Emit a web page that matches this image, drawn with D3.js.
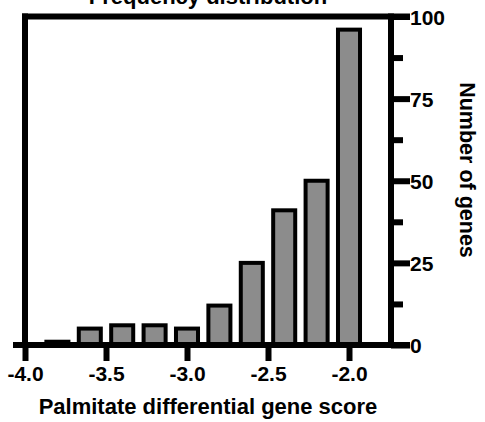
<!DOCTYPE html>
<html>
<head>
<meta charset="utf-8">
<script src="https://cdn.jsdelivr.net/npm/d3@7"></script>
<style>
  body { margin: 0; background: #fff; }
  text { font-family: "Liberation Sans", Arial, sans-serif; font-weight: bold; fill: #000; }
</style>
</head>
<body>
<svg id="chart" width="485" height="422"></svg>
<script>
// bin centres (differential gene score) and counts per bin
const binCenters = [-3.8, -3.6, -3.4, -3.2, -3.0, -2.8, -2.6, -2.4, -2.2, -2.0];
const geneCounts = [1, 5, 6, 6, 5, 12, 25, 41, 50, 96];
const xTickValues = [-4.0, -3.5, -3.0, -2.5, -2.0];
const yTickValues = [0, 25, 50, 75, 100];
const yMinorTicks = [12.5, 37.5, 62.5, 87.5];
const binWidth = 0.2;

const svg = d3.select("#chart");

const x = d3.scaleLinear().domain([-4, -2]).range([25, 349]);
const y = d3.scaleLinear().domain([0, 100]).range([345, 16.5]);

const lineW = 6;
const axisRightX = 391;

// bars
const barW = (x(binWidth) - x(0)) * 0.68;
svg.append("g")
  .selectAll("rect")
  .data(binCenters.map((c, i) => ({ c, v: geneCounts[i] })))
  .join("rect")
  .attr("x", d => x(d.c) - barW / 2)
  .attr("width", barW)
  .attr("y", d => y(d.v))
  .attr("height", d => y(0) - y(d.v))
  .attr("fill", "#8c8c8c")
  .attr("stroke", "#000")
  .attr("stroke-width", 4);

// frame: top line and left line
svg.append("line")
  .attr("x1", x(-4) - lineW / 2).attr("x2", 410)
  .attr("y1", y(100)).attr("y2", y(100))
  .attr("stroke", "#000").attr("stroke-width", lineW);
svg.append("line")
  .attr("x1", x(-4)).attr("x2", x(-4))
  .attr("y1", y(100) - lineW / 2).attr("y2", y(0))
  .attr("stroke", "#000").attr("stroke-width", lineW);

// x axis
svg.append("line")
  .attr("x1", 13).attr("x2", 410)
  .attr("y1", y(0)).attr("y2", y(0))
  .attr("stroke", "#000").attr("stroke-width", lineW);

const xAxis = svg.append("g")
  .attr("transform", `translate(0,${y(0)})`)
  .call(d3.axisBottom(x).tickValues(xTickValues).tickSize(16).tickPadding(5)
    .tickFormat(d => d.toFixed(1)));
xAxis.select(".domain").remove();
xAxis.selectAll(".tick line").attr("stroke", "#000").attr("stroke-width", lineW);
xAxis.selectAll(".tick text").attr("font-size", 21).attr("fill", "#000");

// right y axis
svg.append("line")
  .attr("x1", axisRightX).attr("x2", axisRightX)
  .attr("y1", y(100) - lineW / 2).attr("y2", y(0) + lineW / 2)
  .attr("stroke", "#000").attr("stroke-width", lineW);

const yAxis = svg.append("g")
  .attr("transform", `translate(${axisRightX},0)`)
  .call(d3.axisRight(y).tickValues(yTickValues).tickSize(19).tickPadding(0));
yAxis.select(".domain").remove();
yAxis.selectAll(".tick line").attr("stroke", "#000").attr("stroke-width", lineW);
yAxis.selectAll(".tick text").attr("font-size", 21).attr("fill", "#000").attr("dy", "0.36em");

const yMinor = svg.append("g")
  .attr("transform", `translate(${axisRightX},0)`)
  .call(d3.axisRight(y).tickValues(yMinorTicks).tickSize(12).tickFormat(""));
yMinor.select(".domain").remove();
yMinor.selectAll(".tick line").attr("stroke", "#000").attr("stroke-width", lineW);

// titles
svg.append("text")
  .attr("x", 208).attr("y", 4)
  .attr("text-anchor", "middle")
  .attr("font-size", 22)
  .text("Frequency distribution");

svg.append("text")
  .attr("x", 208).attr("y", 414)
  .attr("text-anchor", "middle")
  .attr("font-size", 22)
  .text("Palmitate differential gene score");

svg.append("text")
  .attr("transform", "translate(460,170) rotate(90)")
  .attr("text-anchor", "middle")
  .attr("font-size", 21.5)
  .text("Number of genes");
</script>
</body>
</html>
